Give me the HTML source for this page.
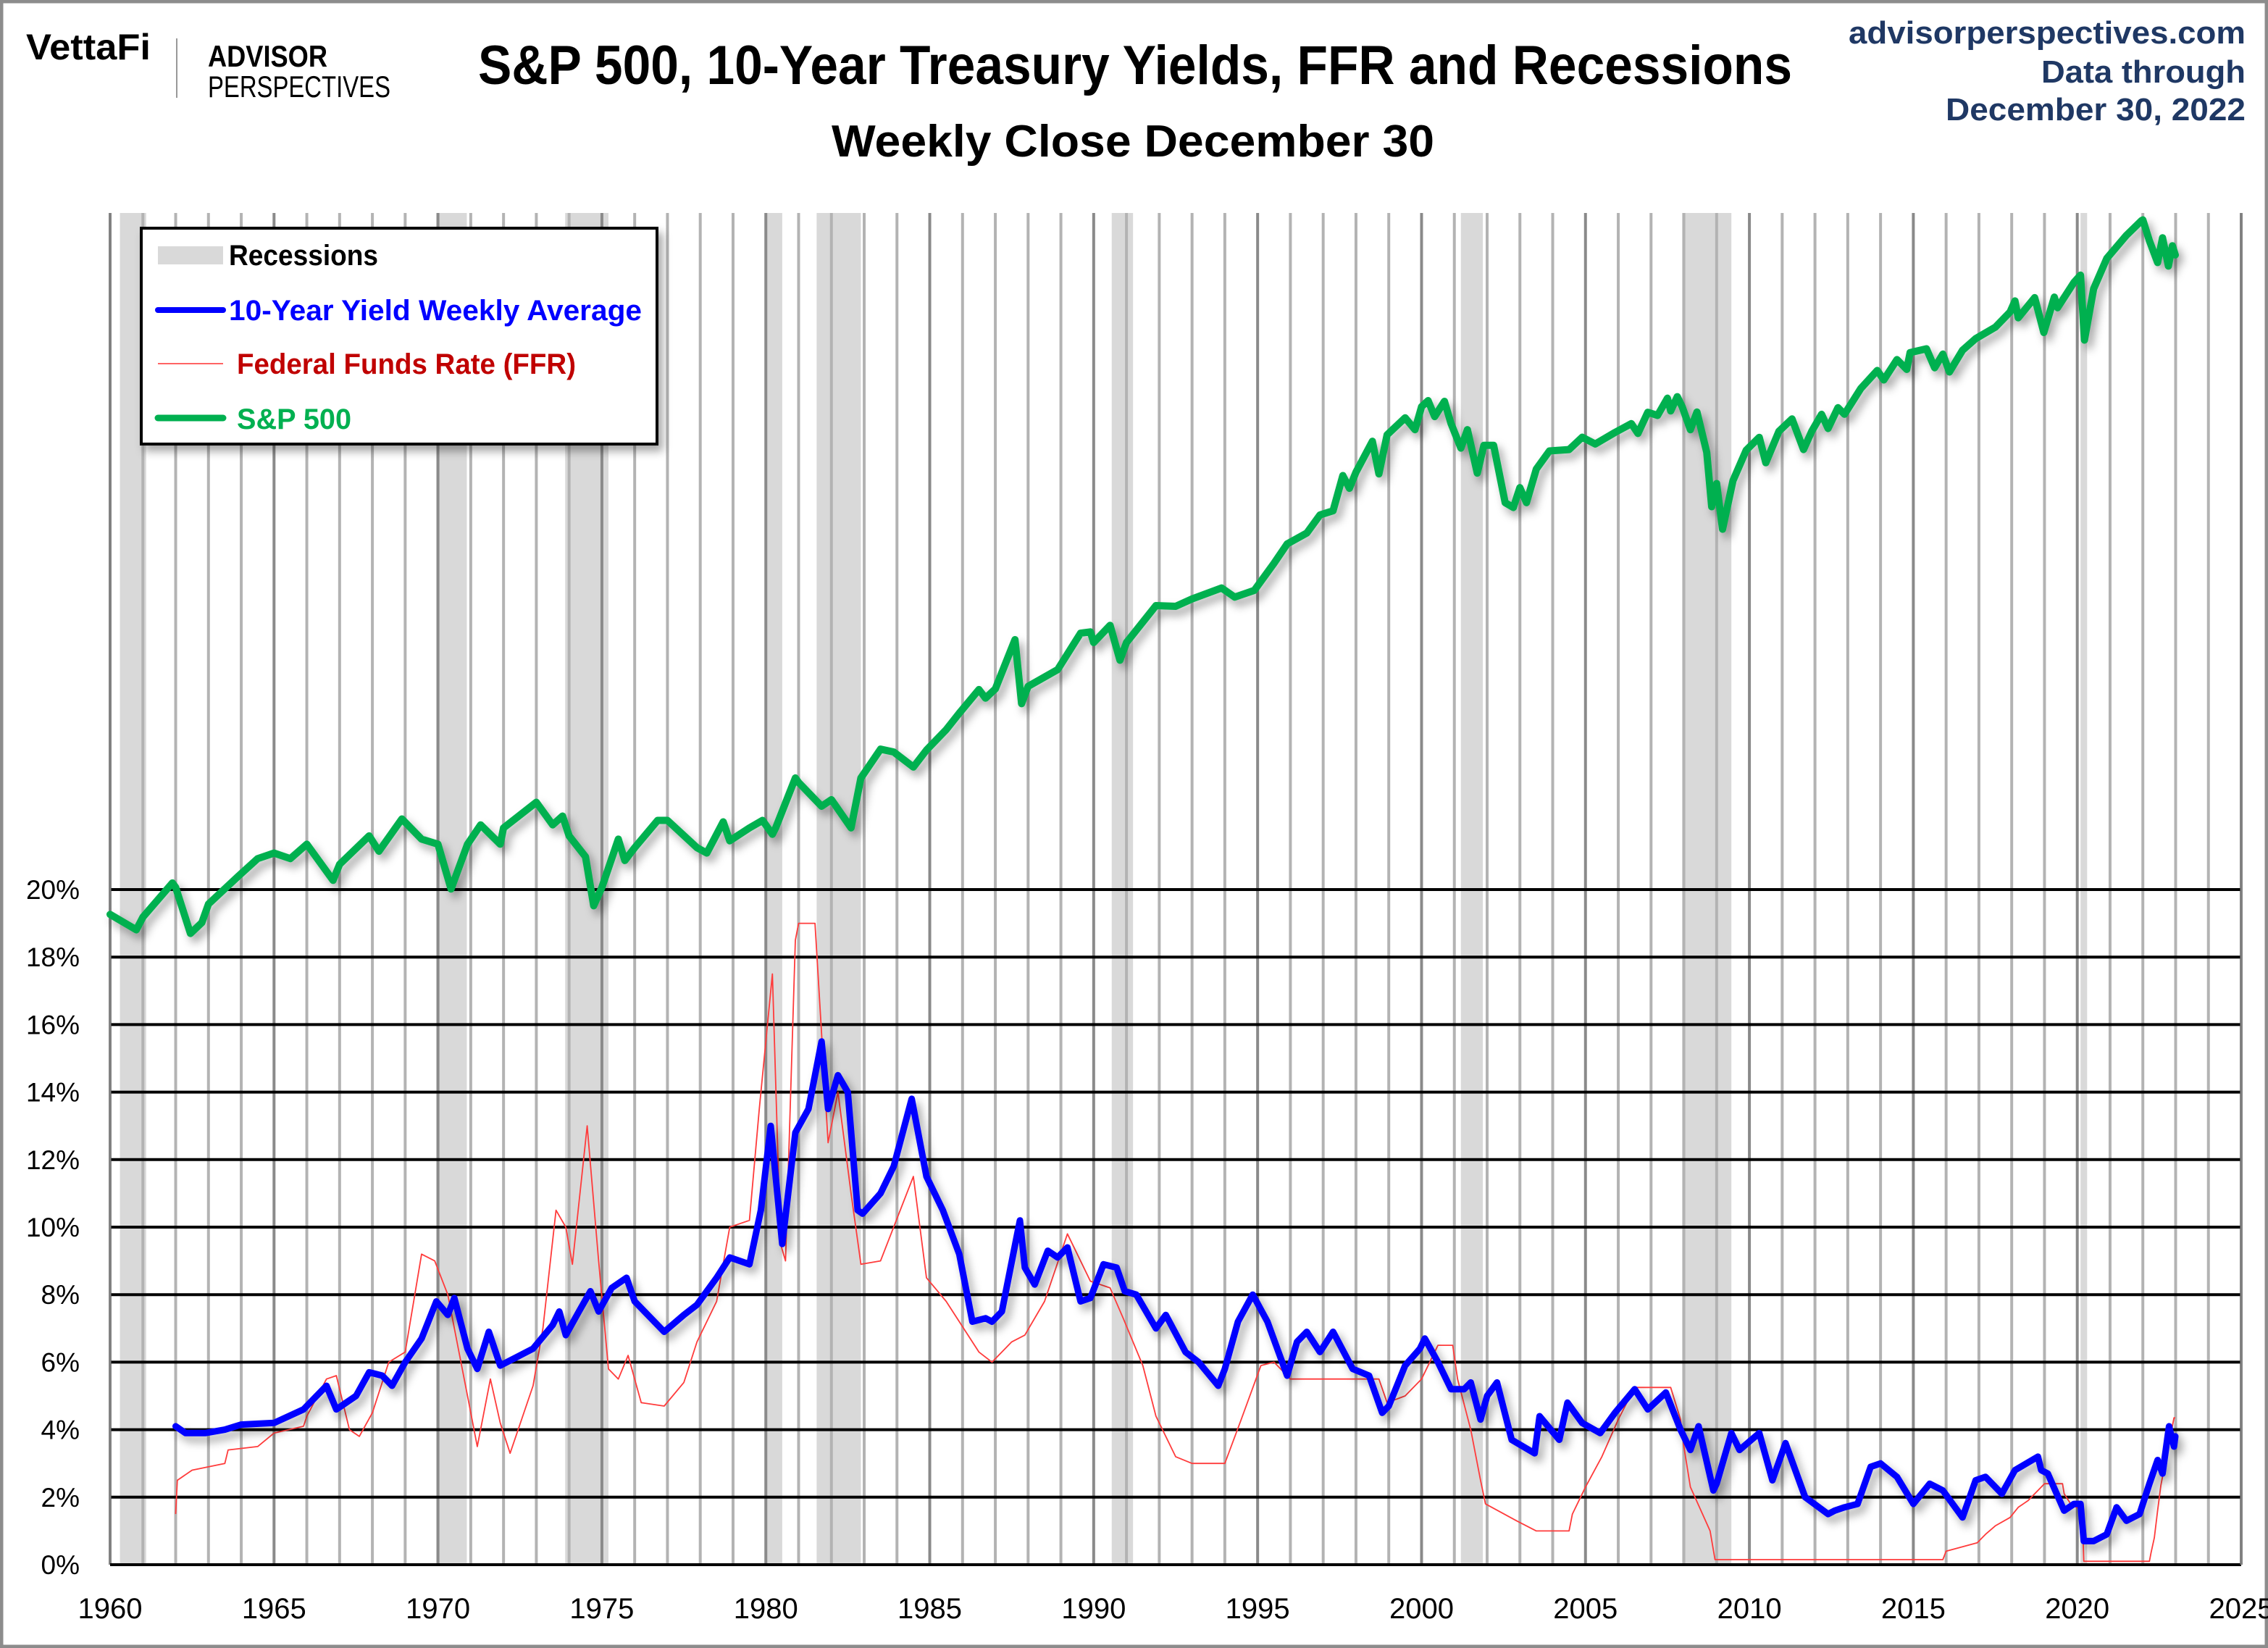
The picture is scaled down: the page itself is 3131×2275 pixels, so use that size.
<!DOCTYPE html>
<html><head><meta charset="utf-8"><style>
html,body{margin:0;padding:0;background:#fff;}
svg{display:block;font-family:"Liberation Sans",sans-serif;}
</style></head><body>
<svg id="chart" width="3131" height="2275" viewBox="0 0 3131 2275" xmlns="http://www.w3.org/2000/svg">
<defs>
<filter id="shadow" x="-10%" y="-10%" width="120%" height="120%">
<feDropShadow dx="6" dy="8" stdDeviation="6" flood-color="#000" flood-opacity="0.35"/>
</filter>
</defs>
<rect x="2" y="2" width="3127" height="2271" fill="#fff" stroke="#8c8c8c" stroke-width="5"/>
<g>
<text x="36" y="82" font-size="50" font-weight="bold" textLength="172" lengthAdjust="spacingAndGlyphs">VettaFi</text>
<line x1="244" y1="53" x2="244" y2="135" stroke="#999" stroke-width="2"/>
<text x="287" y="92" font-size="42" font-weight="bold" textLength="165" lengthAdjust="spacingAndGlyphs">ADVISOR</text>
<text x="287" y="134" font-size="42" textLength="252" lengthAdjust="spacingAndGlyphs">PERSPECTIVES</text>
<text x="660" y="116" font-size="76" font-weight="bold" textLength="1814" lengthAdjust="spacingAndGlyphs">S&amp;P 500, 10-Year Treasury Yields, FFR and Recessions</text>
<text x="1148" y="216" font-size="62" font-weight="bold" textLength="832" lengthAdjust="spacingAndGlyphs">Weekly Close December 30</text>
<text x="3100" y="60" font-size="44" font-weight="bold" fill="#1f3864" text-anchor="end" textLength="548" lengthAdjust="spacingAndGlyphs">advisorperspectives.com</text>
<text x="3100" y="114" font-size="44" font-weight="bold" fill="#1f3864" text-anchor="end" textLength="282" lengthAdjust="spacingAndGlyphs">Data through</text>
<text x="3100" y="166" font-size="44" font-weight="bold" fill="#1f3864" text-anchor="end" textLength="414" lengthAdjust="spacingAndGlyphs">December 30, 2022</text>
</g>
<g id="plot"></g>
<g filter="url(#shadow)">
<rect x="195" y="315" width="712" height="298" fill="#fff" stroke="#000" stroke-width="4"/>
</g>
<g>
<rect x="218" y="340" width="90" height="25" fill="#d9d9d9"/>
<text x="316" y="366" font-size="40" font-weight="bold" textLength="206" lengthAdjust="spacingAndGlyphs">Recessions</text>
<line x1="218" y1="428" x2="308" y2="428" stroke="#0000ff" stroke-width="8" stroke-linecap="round"/>
<text x="316" y="442" font-size="40" font-weight="bold" fill="#0000ff" textLength="570" lengthAdjust="spacingAndGlyphs">10-Year Yield Weekly Average</text>
<line x1="218" y1="502" x2="308" y2="502" stroke="#ff3030" stroke-width="1.5"/>
<text x="327" y="516" font-size="40" font-weight="bold" fill="#c00000" textLength="468" lengthAdjust="spacingAndGlyphs">Federal Funds Rate (FFR)</text>
<line x1="218" y1="577" x2="308" y2="577" stroke="#00b050" stroke-width="9" stroke-linecap="round"/>
<text x="327" y="592" font-size="40" font-weight="bold" fill="#00b050" textLength="158" lengthAdjust="spacingAndGlyphs">S&amp;P 500</text>
</g>
</svg>
<script>
const recessionStarts=[1960.3,1969.95,1973.88,1980.0,1981.55,1990.55,2001.2,2007.95,2020.1];
const recessionEnds=[1961.1,1970.88,1975.2,1980.5,1982.9,1991.2,2001.87,2009.45,2020.3];
const yieldTicks=[0,2,4,6,8,10,12,14,16,18,20];
const yearTicks=[1960,1965,1970,1975,1980,1985,1990,1995,2000,2005,2010,2015,2020,2025];
const spDates=[1960.0,1960.8,1961.0,1961.9,1962.0,1962.45,1962.8,1963.0,1963.9,1964.5,1965.0,1965.5,1966.0,1966.8,1967.0,1967.9,1968.2,1968.9,1969.5,1970.0,1970.4,1970.9,1971.3,1971.9,1972.0,1973.0,1973.5,1973.8,1974.0,1974.5,1974.75,1975.0,1975.5,1975.7,1976.0,1976.7,1977.0,1977.9,1978.2,1978.7,1978.9,1979.5,1979.9,1980.2,1980.3,1980.9,1981.0,1981.7,1982.0,1982.6,1982.9,1983.5,1983.9,1984.5,1984.9,1985.5,1985.9,1986.5,1986.7,1987.0,1987.6,1987.8,1988.0,1988.9,1989.6,1989.9,1990.0,1990.5,1990.8,1991.0,1991.9,1992.5,1993.0,1993.9,1994.3,1994.9,1995.5,1995.9,1996.5,1996.9,1997.3,1997.6,1997.8,1998.0,1998.5,1998.7,1998.95,1999.5,1999.8,2000.0,2000.2,2000.4,2000.7,2000.9,2001.2,2001.4,2001.7,2001.9,2002.2,2002.55,2002.8,2003.0,2003.2,2003.5,2003.9,2004.5,2004.9,2005.3,2005.9,2006.4,2006.6,2006.9,2007.2,2007.5,2007.6,2007.8,2007.95,2008.2,2008.4,2008.7,2008.85,2009.0,2009.18,2009.5,2009.9,2010.3,2010.5,2010.9,2011.3,2011.65,2011.9,2012.2,2012.4,2012.7,2012.9,2013.4,2013.9,2014.1,2014.5,2014.8,2014.9,2015.4,2015.65,2015.9,2016.1,2016.5,2016.9,2017.5,2017.95,2018.1,2018.2,2018.7,2018.98,2019.3,2019.4,2019.9,2020.1,2020.22,2020.5,2020.9,2021.5,2021.95,2022.0,2022.2,2022.45,2022.6,2022.78,2022.9,2022.99];
const spValues=[59,53.5,58,72,70,52.3,56,63,75,84,87,84,92,73.2,81,97,88,108,95,92,69.3,92,104,92,102,120,104,110,97,85,62.3,70,95,83,90,107,107,90,87,106,94,102,107,98,102,140,136,117,122,102,140,168,165,150,167,190,211,245,232,246,336,224,250,278,350,353,330,368,295,330,417,415,435,466,440,459,545,616,660,740,760,950,876,970,1180,960,1229,1370,1270,1469,1527,1380,1520,1320,1130,1270,965,1150,1150,800,776,880,800,990,1110,1120,1211,1160,1248,1320,1240,1418,1390,1550,1430,1565,1468,1270,1420,1100,780,903,676,920,1115,1210,1030,1257,1360,1120,1257,1400,1280,1460,1400,1650,1848,1740,1980,1860,2070,2120,1880,2050,1830,2100,2260,2430,2675,2870,2580,2930,2350,2940,2750,3230,3380,2240,3100,3756,4350,4766,4796,4200,3660,4280,3580,4070,3840];
const tyDates=[1962.0,1962.3,1962.9,1963.5,1964.0,1965.0,1965.9,1966.6,1966.9,1967.5,1967.9,1968.3,1968.6,1969.0,1969.5,1969.95,1970.3,1970.5,1970.9,1971.2,1971.55,1971.9,1972.5,1972.9,1973.5,1973.7,1973.9,1974.3,1974.65,1974.9,1975.3,1975.75,1976.0,1976.9,1977.5,1977.9,1978.5,1978.9,1979.5,1979.85,1980.15,1980.5,1980.9,1981.3,1981.7,1981.9,1982.2,1982.5,1982.8,1982.95,1983.5,1983.9,1984.45,1984.9,1985.4,1985.9,1986.3,1986.7,1986.9,1987.2,1987.75,1987.9,1988.2,1988.6,1988.9,1989.2,1989.6,1989.9,1990.3,1990.7,1990.95,1991.3,1991.9,1992.2,1992.8,1993.2,1993.8,1994.0,1994.4,1994.85,1995.3,1995.9,1996.2,1996.5,1996.9,1997.3,1997.9,1998.4,1998.8,1999.0,1999.5,1999.95,2000.1,2000.5,2000.9,2001.3,2001.5,2001.8,2002.0,2002.3,2002.75,2003.45,2003.6,2004.2,2004.45,2004.9,2005.45,2005.9,2006.5,2006.9,2007.45,2007.9,2008.2,2008.45,2008.9,2009.0,2009.45,2009.7,2010.3,2010.7,2011.1,2011.7,2012.4,2012.6,2012.9,2013.3,2013.7,2014.0,2014.5,2015.0,2015.5,2015.9,2016.5,2016.9,2017.2,2017.7,2018.1,2018.8,2018.9,2019.1,2019.6,2019.9,2020.1,2020.2,2020.5,2020.9,2021.2,2021.5,2021.9,2022.2,2022.45,2022.6,2022.8,2022.95,2022.99];
const tyValues=[4.1,3.9,3.9,4.0,4.15,4.2,4.6,5.3,4.6,5.0,5.7,5.6,5.3,6.0,6.7,7.8,7.4,7.9,6.4,5.8,6.9,5.9,6.2,6.4,7.1,7.5,6.8,7.5,8.1,7.5,8.2,8.5,7.8,6.9,7.4,7.7,8.5,9.1,8.9,10.5,13.0,9.5,12.8,13.5,15.5,13.5,14.5,14.0,10.5,10.4,11.0,11.8,13.8,11.5,10.5,9.2,7.2,7.3,7.2,7.5,10.2,8.8,8.3,9.3,9.1,9.4,7.8,7.9,8.9,8.8,8.1,8.0,7.0,7.4,6.3,6.0,5.3,5.8,7.2,8.0,7.2,5.6,6.6,6.9,6.3,6.9,5.8,5.6,4.5,4.7,5.9,6.4,6.7,6.0,5.2,5.2,5.4,4.3,5.0,5.4,3.7,3.3,4.4,3.7,4.8,4.2,3.9,4.5,5.2,4.6,5.1,4.0,3.4,4.1,2.2,2.4,3.9,3.4,3.9,2.5,3.6,2.0,1.5,1.6,1.7,1.8,2.9,3.0,2.6,1.8,2.4,2.2,1.4,2.5,2.6,2.1,2.8,3.2,2.8,2.7,1.6,1.8,1.8,0.7,0.7,0.9,1.7,1.3,1.5,2.4,3.1,2.7,4.1,3.5,3.8];
const ffrDates=[1962.0,1962.05,1962.5,1963.0,1963.5,1963.6,1964.5,1965.0,1965.9,1966.0,1966.6,1966.9,1967.3,1967.6,1968.0,1968.5,1969.0,1969.5,1969.9,1970.3,1970.9,1971.2,1971.6,1971.9,1972.2,1972.9,1973.2,1973.6,1973.9,1974.1,1974.55,1974.9,1975.2,1975.5,1975.8,1976.2,1976.9,1977.5,1977.9,1978.5,1978.9,1979.5,1979.8,1980.2,1980.45,1980.6,1980.9,1981.0,1981.5,1981.9,1982.2,1982.6,1982.9,1983.5,1984.5,1984.9,1985.5,1986.5,1986.9,1987.5,1987.9,1988.5,1989.2,1989.9,1990.5,1990.9,1991.5,1991.9,1992.5,1993.0,1994.0,1994.5,1995.1,1995.5,1996.0,1997.3,1998.7,1998.95,1999.5,2000.0,2000.5,2000.95,2001.1,2001.5,2001.8,2001.95,2002.9,2003.5,2004.5,2004.6,2005.0,2005.5,2006.0,2006.5,2007.6,2007.9,2008.0,2008.2,2008.8,2008.95,2010.0,2015.9,2016.0,2016.95,2017.2,2017.5,2017.95,2018.2,2018.5,2018.8,2019.0,2019.55,2019.6,2019.8,2020.15,2020.2,2022.2,2022.25,2022.35,2022.45,2022.55,2022.7,2022.85,2022.95,2022.99];
const ffrValues=[1.5,2.5,2.8,2.9,3.0,3.4,3.5,3.9,4.1,4.4,5.5,5.6,4.0,3.8,4.5,6.0,6.3,9.2,9.0,8.0,5.0,3.5,5.5,4.2,3.3,5.3,7.0,10.5,10.0,8.9,13.0,9.0,5.8,5.5,6.2,4.8,4.7,5.4,6.6,7.8,10.0,10.2,13.5,17.5,9.5,9.0,18.5,19.0,19.0,12.5,14.0,11.0,8.9,9.0,11.5,8.5,7.8,6.3,6.0,6.6,6.8,7.8,9.8,8.4,8.2,7.3,5.9,4.4,3.2,3.0,3.0,4.3,5.9,6.0,5.5,5.5,5.5,4.8,5.0,5.5,6.5,6.5,5.5,4.0,2.5,1.8,1.3,1.0,1.0,1.5,2.3,3.2,4.3,5.25,5.25,4.3,3.5,2.3,1.0,0.15,0.15,0.15,0.4,0.65,0.9,1.15,1.4,1.7,1.9,2.2,2.4,2.4,2.1,1.8,1.6,0.1,0.1,0.35,0.8,1.6,2.35,3.1,3.85,4.35,4.35];

const NS='http://www.w3.org/2000/svg';
const X0=152,X1=3094,YT=294,YB=2160;
function xScale(yr){return X0+(yr-1960)/(2025-1960)*(X1-X0);}
function yPct(p){return YB-p*46.6;}
function ySP(v){return 1266-218*Math.log(v/58);}
const plot=document.getElementById('plot');
function mk(tag,attrs,parent){const e=document.createElementNS(NS,tag);for(const k in attrs)e.setAttribute(k,attrs[k]);(parent||plot).appendChild(e);return e;}

for(let i=0;i<recessionStarts.length;i++){
  const r=mk('rect',{x:xScale(recessionStarts[i]),y:YT,width:xScale(recessionEnds[i])-xScale(recessionStarts[i]),height:YB-YT,fill:'#d9d9d9'});
  
  
}
for(let yr=1960;yr<=2025;yr++){
  const l=mk('line',{x1:xScale(yr),y1:YT,x2:xScale(yr),y2:YB,stroke:(yr%5===0)?'#8a8a8a':'#b3b3b3','stroke-width':4});
  
  
}
yieldTicks.forEach(function(p){
  const l=mk('line',{x1:X0,y1:yPct(p),x2:X1,y2:yPct(p),stroke:'#000','stroke-width':4});
  
  
  const t=mk('text',{x:110,y:yPct(p)+13,'font-size':37,'text-anchor':'end'});
  t.textContent=p+'%';
  
  
});
yearTicks.forEach(function(yr){
  const t=mk('text',{x:xScale(yr),y:2234,'font-size':40,'text-anchor':'middle'});
  t.textContent=yr;
  
  
});
const lAxis=mk('line',{x1:X0,y1:YT,x2:X0,y2:YB,stroke:'#808080','stroke-width':3});


const bAxis=mk('line',{x1:X0,y1:YB,x2:X1,y2:YB,stroke:'#000','stroke-width':4});


const rAxis=mk('line',{x1:X1,y1:YT,x2:X1,y2:YB,stroke:'#808080','stroke-width':3});



function pts(d,v,f){return d.map(function(t,i){return xScale(t).toFixed(1)+','+f(v[i]).toFixed(1);}).join(' ');}
const ffr=mk('polyline',{points:pts(ffrDates,ffrValues,yPct),fill:'none',stroke:'#ff3b3b','stroke-width':1.8,'stroke-linejoin':'round'});


const ty=mk('polyline',{points:pts(tyDates,tyValues,yPct),fill:'none',stroke:'#0000ff','stroke-width':9,'stroke-linejoin':'round','stroke-linecap':'round',filter:'url(#shadow)'});


const sp=mk('polyline',{points:pts(spDates,spValues,ySP),fill:'none',stroke:'#00b050','stroke-width':10,'stroke-linejoin':'round','stroke-linecap':'round',filter:'url(#shadow)'});


</script>
</body></html>
